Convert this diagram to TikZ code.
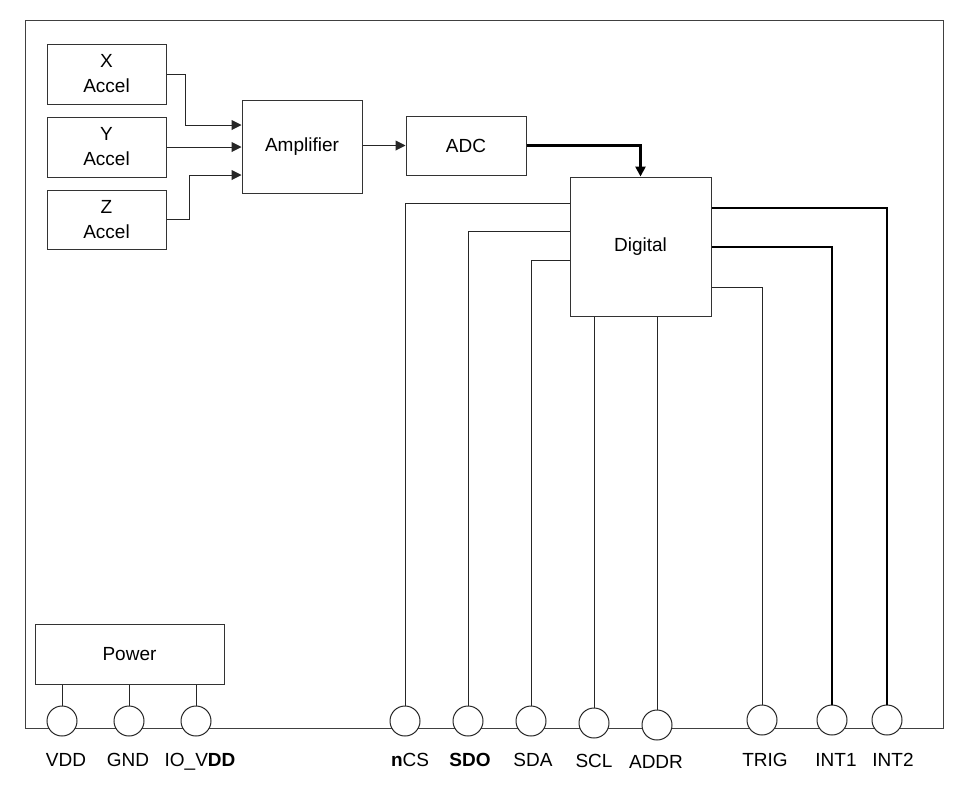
\documentclass[tikz,border=0pt]{standalone}
\usepackage{fontspec}
\setmainfont{Liberation Sans}
\usetikzlibrary{arrows.meta}
\begin{document}
\begin{tikzpicture}[x=1pt,y=-1pt,
  blk/.style={draw=black!80, line width=1pt, fill=white, inner sep=0pt, align=center, font=\fontsize{19}{25}\selectfont},
  pin/.style={draw=black!85, line width=1pt, fill=white, circle, minimum size=30pt, inner sep=0pt},
  lbl/.style={anchor=base, font=\fontsize{19}{23}\selectfont, inner sep=0pt},
  wire/.style={line width=1pt, draw=black!85},
  arr/.style={wire, -{Triangle[length=10pt,width=10pt]}},
]
\useasboundingbox (0,0) rectangle (974,796);
\draw[wire, draw=black!75] (25,20) rectangle (943,728);
% blocks
\node[blk, minimum width=119pt, minimum height=60pt] (xacc) at (106.5,74) {X\\Accel};
\node[blk, minimum width=119pt, minimum height=60pt] (yacc) at (106.5,147) {Y\\Accel};
\node[blk, minimum width=119pt, minimum height=59pt] (zacc) at (106.5,219.5) {Z\\Accel};
\node[blk, minimum width=120pt, minimum height=93pt] (amp) at (302,146.5) {Amplifier};
\node[blk, minimum width=120pt, minimum height=59pt] (adc) at (466,145.5) {ADC};
\node[blk, minimum width=141pt, minimum height=139pt] (digital) at (640.5,246.5) {Digital};
\node[blk, minimum width=189pt, minimum height=60pt] (power) at (129.5,654) {Power};
% pins
\node[pin] (vdd) at (62,721) {};
\node[pin] (gnd) at (129,721) {};
\node[pin] (iovdd) at (196,721) {};
\node[pin] (ncs) at (405,721) {};
\node[pin] (sdo) at (468,721) {};
\node[pin] (sda) at (531,721) {};
\node[pin] (scl) at (594,723) {};
\node[pin] (addr) at (657,725) {};
\node[pin] (trig) at (762,720) {};
\node[pin] (int1) at (832,720) {};
\node[pin] (int2) at (887,720) {};
% labels
\node[lbl] (lvdd) at (66,766) {VDD};
\node[lbl] (lgnd) at (128,766) {GND};
\node[lbl] (liovdd) at (200,766) {IO\_V\textbf{DD}};
\node[lbl] (lncs) at (410,766) {\textbf{n}CS};
\node[lbl] (lsdo) at (470,766) {\textbf{SDO}};
\node[lbl] (lsda) at (533,766) {SDA};
\node[lbl] (lscl) at (594,767) {SCL};
\node[lbl] (laddr) at (656,768) {ADDR};
\node[lbl] (ltrig) at (765,766) {TRIG};
\node[lbl] (lint1) at (836,766) {INT1};
\node[lbl] (lint2) at (893,766) {INT2};
% accel -> amplifier
\draw[arr] (xacc.east) -- (185,74) |- (amp.west |- 0,125);
\draw[arr] (yacc.east) -- (amp.west |- yacc.east);
\draw[arr] (zacc.east) -- (189,219.5) |- (amp.west |- 0,175);
\draw[arr] (amp.east |- adc.west) -- (adc.west);
\draw[arr, line width=2.5pt, draw=black] (adc.east) -| (digital.north);
% digital -> pins
\draw[wire] (digital.west |- 0,203) -| (ncs.north);
\draw[wire] (digital.west |- 0,231) -| (sdo.north);
\draw[wire] (digital.west |- 0,260) -| (sda.north);
\draw[wire] (digital.south -| scl) -- (scl.north);
\draw[wire] (digital.south -| addr) -- (addr.north);
\draw[wire] (digital.east |- 0,287) -| (trig.north);
\draw[wire, line width=2pt, draw=black] (digital.east |- 0,247) -| (int1.north);
\draw[wire, line width=2pt, draw=black] (digital.east |- 0,208) -| (int2.north);
% power -> pins
\draw[wire] (power.south -| vdd) -- (vdd.north);
\draw[wire] (power.south -| gnd) -- (gnd.north);
\draw[wire] (power.south -| iovdd) -- (iovdd.north);
\end{tikzpicture}
\end{document}
